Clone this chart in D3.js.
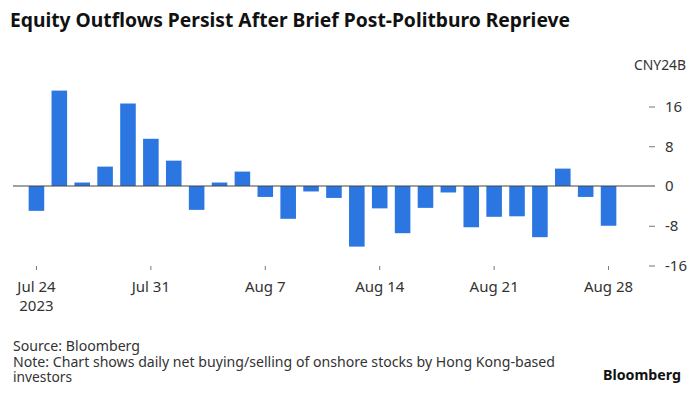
<!DOCTYPE html>
<html>
<head>
<meta charset="utf-8">
<script src="https://cdn.jsdelivr.net/npm/d3@7"></script>
<style>
  html, body { margin: 0; padding: 0; background: #fff; }
  svg { display: block; font-family: "Noto Sans", "Open Sans", sans-serif; }
</style>
</head>
<body>
<svg id="chart" width="700" height="394"></svg>
<script>
// trading days and daily net flows (CNY bn)
const days = [
  "2023-07-24", "2023-07-25", "2023-07-26", "2023-07-27", "2023-07-28",
  "2023-07-31", "2023-08-01", "2023-08-02", "2023-08-03", "2023-08-04",
  "2023-08-07", "2023-08-08", "2023-08-09", "2023-08-10", "2023-08-11",
  "2023-08-14", "2023-08-15", "2023-08-16", "2023-08-17", "2023-08-18",
  "2023-08-21", "2023-08-22", "2023-08-23", "2023-08-24", "2023-08-25",
  "2023-08-28"
];
const flows = [
  -5.0, 19.2, 0.7, 3.9, 16.6,
  9.5, 5.1, -4.8, 0.7, 2.9,
  -2.2, -6.6, -1.1, -2.4, -12.2,
  -4.5, -9.5, -4.4, -1.3, -8.3,
  -6.2, -6.1, -10.3, 3.5, -2.2,
  -8.0
];
const xTickDays = ["2023-07-24", "2023-07-31", "2023-08-07", "2023-08-14", "2023-08-21", "2023-08-28"];
const xTickLabels = ["Jul 24", "Jul 31", "Aug 7", "Aug 14", "Aug 21", "Aug 28"];
const yTicks = [-16, -8, 0, 8, 16];

const svg = d3.select("#chart");
const textCol = "#333";

// scales
const x = d3.scaleBand().domain(days).range([25, 620]).paddingInner(0.32).paddingOuter(0.16);
const y = d3.scaleLinear().domain([-16, 16]).range([265.5, 106.5]);

// title
svg.append("text")
    .attr("x", 10).attr("y", 26.7)
    .attr("font-size", 19).attr("font-weight", 700).attr("fill", "#111")
    .attr("textLength", 560).attr("lengthAdjust", "spacingAndGlyphs")
    .text("Equity Outflows Persist After Brief Post-Politburo Reprieve");

// unit label
svg.append("text")
    .attr("x", 634).attr("y", 70)
    .attr("font-size", 14).attr("fill", textCol)
    .attr("textLength", 52).attr("lengthAdjust", "spacingAndGlyphs")
    .text("CNY24B");

// bars
svg.append("g").selectAll("rect")
    .data(days)
    .join("rect")
    .attr("x", d => x(d))
    .attr("width", x.bandwidth())
    .attr("y", (d, i) => y(Math.max(0, flows[i])))
    .attr("height", (d, i) => Math.abs(y(flows[i]) - y(0)))
    .attr("fill", "#2b76e0");

// zero line
svg.append("line")
    .attr("x1", 13).attr("x2", 655)
    .attr("y1", y(0)).attr("y2", y(0))
    .attr("stroke", "#444").attr("stroke-width", 1.2);

// y axis on the right
const yAxis = svg.append("g")
    .attr("transform", "translate(649,0)")
    .call(d3.axisRight(y).tickValues(yTicks).tickSize(6).tickPadding(10).tickFormat(d => d));
yAxis.select(".domain").remove();
yAxis.selectAll(".tick line").attr("stroke", "#777");
yAxis.selectAll(".tick").filter(d => d === 0).select("line").remove();
yAxis.selectAll("text")
    .attr("font-family", "Noto Sans").attr("font-size", 15).attr("fill", textCol);

// x axis
const xAxis = svg.append("g")
    .attr("transform", "translate(" + (x.bandwidth() / 2) + ",266)")
    .call(d3.axisBottom(x).tickValues(xTickDays).tickSize(4)
        .tickFormat(d => xTickLabels[xTickDays.indexOf(d)]));
xAxis.select(".domain").remove();
xAxis.selectAll(".tick line").attr("stroke", "#777");
xAxis.selectAll("text")
    .attr("y", 25.7).attr("dy", null)
    .attr("font-family", "Noto Sans").attr("font-size", 15).attr("fill", textCol);
// x positions of ticks: band start + half band
xAxis.selectAll(".tick").attr("transform", d => "translate(" + x(d) + ",0)");

svg.append("text")
    .attr("x", x(days[0]) + x.bandwidth() / 2).attr("y", 311)
    .attr("text-anchor", "middle")
    .attr("font-size", 15).attr("fill", textCol)
    .text("2023");

// footer
const foot = [
  ["Source: Bloomberg", 351, 127],
  ["Note: Chart shows daily net buying/selling of onshore stocks by Hong Kong-based", 366.7, 542],
  ["investors", 382, 59]
];
svg.append("g").selectAll("text")
    .data(foot)
    .join("text")
    .attr("x", 13).attr("y", d => d[1])
    .attr("font-size", 14).attr("fill", textCol)
    .attr("textLength", d => d[2]).attr("lengthAdjust", "spacingAndGlyphs")
    .text(d => d[0]);

svg.append("text")
    .attr("x", 603).attr("y", 380)
    .attr("font-size", 15).attr("font-weight", 700).attr("fill", "#111")
    .attr("textLength", 78).attr("lengthAdjust", "spacingAndGlyphs")
    .text("Bloomberg");
</script>
</body>
</html>
